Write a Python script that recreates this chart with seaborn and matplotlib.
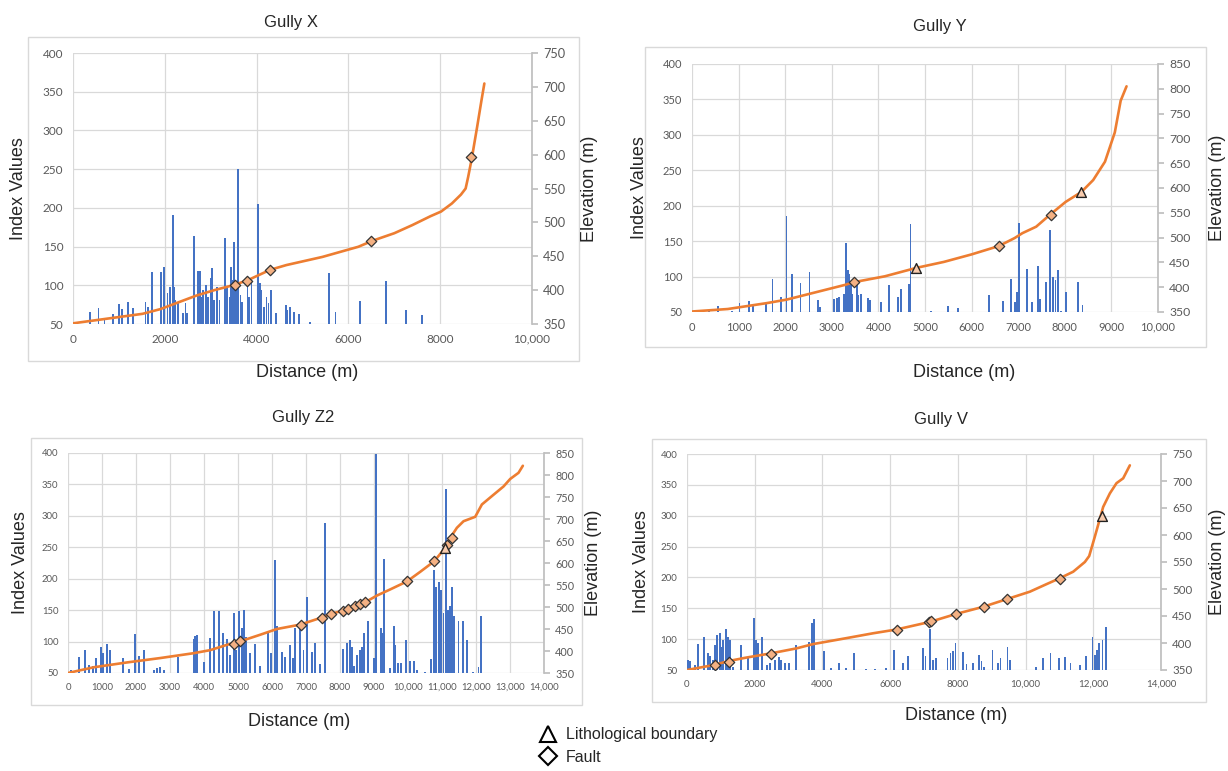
import numpy as np
import pandas as pd
import matplotlib
matplotlib.use("Agg")
import matplotlib.pyplot as plt
from matplotlib.patches import Rectangle
from matplotlib.lines import Line2D
from matplotlib.ticker import FuncFormatter, MultipleLocator
import seaborn as sns

# ---- Gully X ----
x_bar_dist = [375, 556, 686, 880, 1000, 1060, 1205, 1300, 1580, 1640, 1720, 1913, 1980, 2060, 2110,
              2175, 2200, 2230, 2290, 2400, 2450, 2490, 2630, 2720, 2760, 2795, 2830, 2890, 2940, 3000,
              3030, 3080, 3130, 3190, 3310, 3350, 3410, 3440, 3470, 3500, 3550, 3600, 3650, 3680, 3800,
              3840, 3890, 4035, 4065, 4100, 4165, 4215, 4260, 4310, 4420, 4640, 4670, 4730, 4815, 4925,
              5160, 5575, 5720, 6260, 6820, 7260, 7600]
x_bar_index = [65, 71, 55, 63, 76, 70, 79, 71, 78, 72, 117, 117, 124, 90, 98,
               191, 98, 81, 77, 64, 77, 64, 164, 119, 119, 85, 94, 100, 85, 110,
               122, 81, 98, 81, 161, 98, 85, 124, 107, 156, 103, 250, 88, 79, 103,
               85, 103, 205, 103, 94, 72, 85, 77, 94, 64, 75, 68, 72, 65, 63,
               52, 116, 66, 80, 105, 68, 62]
x_elev_dist = [0, 1513, 1905, 2297, 2690, 3081, 3473, 3787, 4296, 4649, 5433, 6217, 6530, 7000,
               7393, 7785, 8020, 8256, 8452, 8554, 8609, 8687, 8805, 8899, 8962]
x_elev = [351, 365, 372, 382, 392, 400, 407, 414, 430, 437, 449, 464, 473, 484,
          496, 509, 516, 528, 541, 550, 567, 594, 641, 680, 705]
x_fault_dist = [3525, 3780, 4290, 6500, 8680]
x_fault_elev = [408, 414, 430, 473, 596]
x_litho_dist = []
x_litho_elev = []

# ---- Gully Y ----
y_bar_dist = [357, 550, 857, 1020, 1214, 1307, 1592, 1728, 1914, 2028, 2150, 2328, 2521, 2700, 2750,
              3050, 3106, 3163, 3270, 3313, 3340, 3370, 3406, 3440, 3535, 3570, 3627, 3785, 3820, 4050,
              4227, 4427, 4485, 4655, 4690, 5127, 5500, 5714, 6376, 6670, 6840, 6930, 6975, 7020, 7190,
              7300, 7427, 7460, 7600, 7690, 7750, 7800, 7856, 7910, 8020, 8285, 8380]
y_bar_index = [51, 58, 51, 62, 65, 58, 64, 97, 71, 185, 103, 91, 106, 67, 57,
               69, 70, 71, 76, 147, 109, 104, 90, 76, 90, 74, 76, 70, 67, 64,
               88, 71, 83, 90, 174, 52, 59, 55, 74, 65, 96, 64, 78, 175, 110,
               64, 115, 69, 93, 166, 100, 95, 109, 52, 78, 93, 60]
y_elev_dist = [0, 767, 1610, 2032, 2454, 2875, 3297, 3466, 4140, 4815, 5405, 5995, 6585, 6922,
               7091, 7386, 7681, 8018, 8356, 8609, 8862, 9073, 9199, 9325]
y_elev = [351, 356, 368, 375, 385, 395, 405, 410, 422, 439, 451, 466, 483, 499,
          509, 522, 546, 572, 592, 616, 653, 712, 776, 805]
y_fault_dist = [3466, 6585, 7698]
y_fault_elev = [410, 483, 546]
y_litho_dist = [4815, 8340]
y_litho_elev = [439, 592]

# ---- Gully Z2 ----
z_bar_dist = [90, 314, 490, 627, 725, 823, 970, 1030, 1147, 1245, 1607, 1784, 1980, 2097, 2225,
              2520, 2617, 2715, 2813, 3224, 3695, 3744, 3793, 4008, 4185, 4302, 4430, 4547, 4675, 4773,
              4870, 4939, 5018, 5116, 5165, 5243, 5361, 5508, 5655, 5870, 5968, 6096, 6145, 6290, 6390,
              6517, 6605, 6683, 6830, 6928, 7026, 7173, 7273, 7420, 7567, 8077, 8204, 8283, 8351, 8420,
              8498, 8576, 8645, 8714, 8812, 8988, 9047, 9204, 9263, 9302, 9478, 9576, 9625, 9694, 9792,
              9949, 10066, 10184, 10262, 10507, 10674, 10752, 10830, 10899, 10968, 11046, 11105, 11164,
              11223, 11291, 11360, 11487, 11615, 11732, 11899, 12075, 12153]
z_bar_index = [55, 75, 86, 63, 61, 74, 91, 82, 96, 87, 74, 56, 112, 77, 86,
               55, 58, 59, 55, 75, 104, 109, 111, 68, 105, 148, 148, 113, 104, 79,
               146, 87, 148, 121, 151, 108, 82, 96, 61, 116, 82, 230, 124, 84, 76,
               95, 74, 121, 127, 87, 171, 83, 98, 65, 289, 88, 97, 103, 92, 61,
               79, 87, 92, 114, 132, 74, 399, 121, 113, 231, 58, 124, 95, 66, 66,
               103, 69, 69, 55, 51, 72, 214, 187, 195, 182, 145, 342, 150,
               156, 187, 140, 132, 132, 103, 51, 60, 141]
z_elev_dist = [0, 755, 1735, 2715, 3695, 4185, 4675, 5067, 5655, 6145, 6830, 7420, 7763, 8106,
               8400, 8743, 9086, 9478, 9968, 10360, 10772, 11046, 11242, 11438, 11634, 11977, 12173,
               12467, 12810, 13006, 13251, 13378]
z_elev = [350, 363, 374, 384, 395, 402, 414, 422, 437, 450, 460, 475, 485, 492,
          502, 511, 526, 540, 558, 580, 604, 630, 657, 680, 695, 705, 733,
          752, 774, 791, 805, 821]
z_fault_dist = [4870, 5067, 6850, 7469, 7743, 8077, 8224, 8449, 8576, 8743, 9968, 10772, 11160, 11291]
z_fault_elev = [417, 422, 460, 475, 485, 492, 496, 503, 507, 511, 558, 604, 640, 657]
z_litho_dist = [11100]
z_litho_elev = [634]

# ---- Gully V ----
v_bar_dist = [30, 98, 227, 325, 492, 620, 690, 768, 837, 887, 965, 1015, 1064, 1162, 1212,
              1261, 1360, 1606, 1803, 1970, 2029, 2098, 2226, 2364, 2443, 2591, 2719, 2788, 2886, 3014,
              3231, 3605, 3704, 3763, 4039, 4265, 4492, 4708, 4925, 5299, 5546, 5890, 6117, 6383, 6531,
              6659, 6974, 7043, 7171, 7270, 7348, 7693, 7782, 7860, 7929, 8156, 8255, 8451, 8629, 8698,
              8767, 9023, 9190, 9259, 9466, 9535, 10303, 10520, 10737, 10993, 11160, 11328, 11603, 11780,
              11977, 12046, 12115, 12174, 12273, 12371]
v_bar_index = [66, 64, 58, 92, 103, 77, 72, 66, 90, 107, 110, 88, 99, 116, 104,
               99, 55, 90, 69, 135, 99, 93, 103, 58, 61, 66, 71, 67, 61, 61,
               90, 96, 126, 132, 81, 53, 61, 54, 78, 52, 51, 54, 82, 62, 73,
               50, 85, 72, 117, 67, 70, 69, 77, 80, 94, 79, 60, 61, 74, 64,
               55, 83, 62, 69, 88, 66, 55, 69, 78, 69, 71, 62, 58, 72,
               103, 74, 82, 94, 99, 120]
v_elev_dist = [0, 768, 1261, 1753, 2492, 3231, 3724, 4708, 5496, 6186, 7171, 7959, 8747, 9436,
               10126, 10619, 11013, 11406, 11751, 11879, 12046, 12213, 12292, 12489, 12686, 12883, 13080]
v_elev = [350, 359, 367, 373, 381, 390, 398, 409, 418, 425, 439, 454, 467, 481,
          495, 509, 520, 532, 550, 561, 597, 634, 652, 677, 696, 705, 729]
v_fault_dist = [818, 1231, 2492, 6206, 7151, 7220, 7959, 8767, 9456, 11013]
v_fault_elev = [359, 365, 380, 425, 439, 441, 454, 467, 481, 518]
v_litho_dist = [12243]
v_litho_elev = [635]

W, H = 1228, 771
BLUE = "#4472C4"
ORANGE = "#ED7D31"
GRID = "#d9d9d9"
TICK = "#595959"

sns.set_theme(style="white")
plt.rcParams["font.family"] = ["Liberation Sans", "DejaVu Sans"]

fig = plt.figure(figsize=(W / 100, H / 100), dpi=100)


def fx(x):
    return x / W


def fy(y):
    return 1 - y / H


def xfmt(v, pos):
    v = int(round(v))
    return f"{v:,}" if v >= 10000 else str(v)


def panel(box, frame, title_xy, xlab_xy, ylab_x, elab_x, title,
          bd, bi, ed, ev, fd, fv, ld, lv, xmax, xstep, emax, bw, tfs, rfs):
    x0, x1, yt, yb = box
    ax = fig.add_axes([fx(x0), fy(yb), fx(x1 - x0), (yb - yt) / H])
    fl, ft, fr, fb = frame
    fig.patches.append(Rectangle((fx(fl), fy(fb)), fx(fr - fl), (fb - ft) / H,
                                 transform=fig.transFigure, fill=False,
                                 edgecolor=GRID, linewidth=1.0))
    ax.bar(bd, bi, width=bw, color=BLUE, linewidth=0, zorder=2)
    ax.set_xlim(0, xmax)
    ax.set_ylim(50, 400)
    ax.yaxis.set_major_locator(MultipleLocator(50))
    ax.xaxis.set_major_locator(MultipleLocator(xstep))
    ax.xaxis.set_major_formatter(FuncFormatter(xfmt))
    ax.grid(True, color=GRID, linewidth=0.9, zorder=0)
    ax.set_axisbelow(True)
    for s in ax.spines.values():
        s.set_visible(False)
    ax.tick_params(axis="both", length=0, labelcolor=TICK, labelsize=tfs)
    ax.tick_params(axis="y", pad=7)
    ax.tick_params(axis="x", pad=7)
    for lab in ax.get_xticklabels() + ax.get_yticklabels():
        lab.set_fontfamily(["Lato", "DejaVu Sans"])

    ax2 = ax.twinx()
    ax2.set_ylim(350, emax)
    ax2.yaxis.set_major_locator(MultipleLocator(50))
    prof = pd.DataFrame({"dist": ed, "elev": ev})
    sns.lineplot(data=prof, x="dist", y="elev", ax=ax2, color=ORANGE, linewidth=1.9,
                 sort=False, estimator=None, zorder=3)
    if fd:
        sns.scatterplot(x=fd, y=fv, ax=ax2, marker="D", s=28, color="#f4b183",
                        edgecolor="#333333", linewidth=0.9, zorder=4)
    if ld:
        sns.scatterplot(x=ld, y=lv, ax=ax2, marker="^", s=50, color="#f8cbad",
                        edgecolor="#222222", linewidth=1.0, zorder=4)
    ax2.set_xlim(0, xmax)
    ax2.set_xlabel("")
    ax2.set_ylabel("")
    for k, s in ax2.spines.items():
        s.set_visible(k == "right")
    ax2.spines["right"].set_color("#bfbfbf")
    ax2.tick_params(axis="y", direction="out", length=4, color="#bfbfbf",
                    labelcolor=TICK, labelsize=rfs, pad=4)
    for lab in ax2.get_yticklabels():
        lab.set_fontfamily(["Lato", "DejaVu Sans"])

    fig.text(fx(title_xy[0]), fy(title_xy[1]), title, ha="center", va="center",
             fontsize=12, color="#262626")
    fig.text(fx(xlab_xy[0]), fy(xlab_xy[1]), "Distance (m)", ha="center", va="center",
             fontsize=13, color="#262626")
    cy = (yt + yb) / 2
    fig.text(fx(ylab_x), fy(cy), "Index Values", ha="center", va="center",
             rotation=90, fontsize=13, color="#262626")
    fig.text(fx(elab_x), fy(cy), "Elevation (m)", ha="center", va="center",
             rotation=90, fontsize=13, color="#262626")


panel((73, 532, 53, 324), (28, 37, 579, 361), (291, 22), (307, 372), 19, 589, "Gully X",
      x_bar_dist, x_bar_index, x_elev_dist, x_elev, x_fault_dist, x_fault_elev,
      x_litho_dist, x_litho_elev, 10000, 2000, 750, 40, 8.5, 9.2)
panel((692, 1158, 64, 312), (645, 47, 1206, 347), (940, 26), (964, 372), 640, 1218, "Gully Y",
      y_bar_dist, y_bar_index, y_elev_dist, y_elev, y_fault_dist, y_fault_elev,
      y_litho_dist, y_litho_elev, 10000, 1000, 850, 40, 8.0, 8.8)
panel((68, 544, 453, 673), (31, 438, 582, 705), (303, 418), (299, 722), 21, 593, "Gully Z2",
      z_bar_dist, z_bar_index, z_elev_dist, z_elev, z_fault_dist, z_fault_elev,
      z_litho_dist, z_litho_elev, 14000, 1000, 850, 55, 6.8, 7.8)
panel((687, 1161, 454, 670), (652, 439, 1206, 702), (941, 420), (956, 715), 641, 1218, "Gully V",
      v_bar_dist, v_bar_index, v_elev_dist, v_elev, v_fault_dist, v_fault_elev,
      v_litho_dist, v_litho_elev, 14000, 2000, 750, 55, 7.0, 8.3)

# marker key at the bottom centre
handles = [Line2D([], [], linestyle="none", marker="^", markersize=11, markerfacecolor="white",
                  markeredgecolor="black", markeredgewidth=1.5),
           Line2D([], [], linestyle="none", marker="D", markersize=9, markerfacecolor="white",
                  markeredgecolor="black", markeredgewidth=1.5)]
fig.legend(handles, ["Lithological boundary", "Fault"], loc="center left",
           bbox_to_anchor=(fx(524), fy(746)), frameon=False, fontsize=11.5,
           handletextpad=0.5, labelspacing=0.45, handlelength=1.2)

fig.savefig("out.png", dpi=100)
